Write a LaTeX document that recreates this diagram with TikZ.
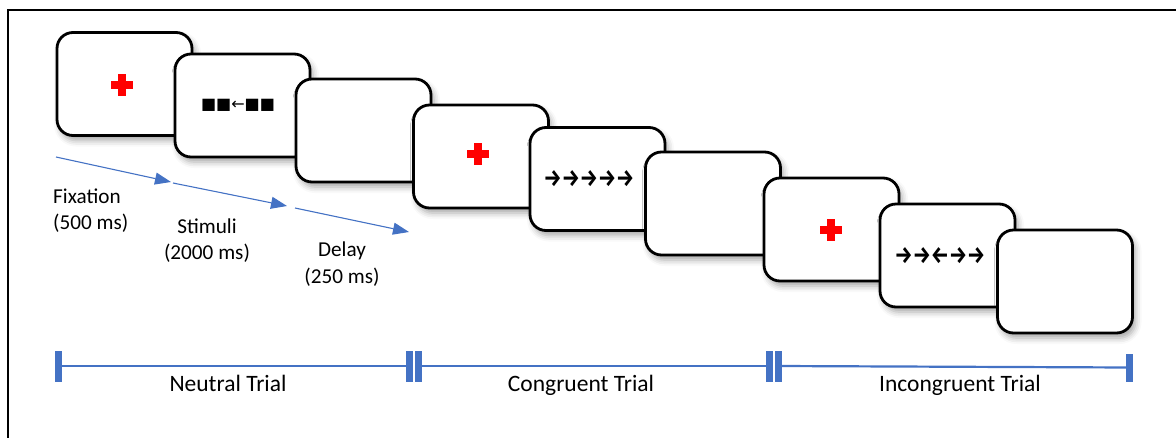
\documentclass[tikz,border=0pt]{standalone}
\usepackage{fontspec}
\setmainfont{Carlito}
\newfontfamily\symfont{DejaVu Sans}
\newfontfamily\arrowfont{Fira Sans}
\usetikzlibrary{arrows.meta,shadows.blur}
\definecolor{tblue}{HTML}{4472C4}
\definecolor{crossred}{HTML}{FF0000}
\begin{document}
\begin{tikzpicture}[x=1pt,y=-1pt,
  screen/.style={draw=black,line width=2.8pt,fill=white,rounded corners=16pt,
    minimum width=135pt,minimum height=103pt,inner sep=0pt,
    blur shadow={shadow xshift=3pt,shadow yshift=-5pt,shadow blur radius=6pt,shadow opacity=35}},
  redcross/.style={minimum size=22pt,inner sep=0pt,
    path picture={
      \fill[crossred] ([shift={(-11pt,-4pt)}]path picture bounding box.center) rectangle ([shift={(11pt,4pt)}]path picture bounding box.center);
      \fill[crossred] ([shift={(-4pt,-11pt)}]path picture bounding box.center) rectangle ([shift={(4pt,11pt)}]path picture bounding box.center);}},
  stimtxt/.style={inner sep=0pt,font=\arrowfont\bfseries\fontsize{24}{24}\selectfont},
  neutxt/.style={inner sep=0pt,font=\symfont\fontsize{16}{16}\selectfont},
  stagelbl/.style={inner sep=0pt,align=center,font=\fontsize{21.2}{26.5}\selectfont},
  triallbl/.style={inner sep=0pt,anchor=base,font=\fontsize{23.5}{28}\selectfont},
  timearrow/.style={draw=tblue,line width=1.1pt,-{Triangle[length=16pt,width=12pt]}},
  bar/.style={fill=tblue,draw=none,minimum width=7pt,minimum height=31pt,inner sep=0pt},
  tline/.style={draw=tblue,line width=2.2pt},
  frame/.style={draw=black,line width=2.6pt}
]
\useasboundingbox (0,0) rectangle (1176,437);
% outer frame (only top and left visible)
\coordinate (fbl) at (8,445);
\coordinate (ftl) at (8,10);
\coordinate (ftr) at (1185,10);
\draw[frame] (fbl) -- (ftl) -- (ftr);

% screens
\node[screen] (b1) at (124.5,84) {};
\node[redcross] (c1) at (122,85) {};
\node[screen] (b2) at (242.5,105.5) {};
\node[neutxt] (s2) at (238,105) {■■←■■};
\node[screen] (b3) at (363.5,130.5) {};
\node[screen] (b4) at (481,156.5) {};
\node[redcross] (c4) at (478,154) {};
\node[screen] (b5) at (597.5,179) {};
\node[stimtxt] (s5) at (589,179) {\scalebox{0.84}[1]{→→→→→}};
\node[screen] (b6) at (713,203.5) {};
\node[screen] (b7) at (831.5,229.5) {};
\node[redcross] (c7) at (831,230) {};
\node[screen] (b8) at (947.5,255.5) {};
\node[stimtxt] (s8) at (940,256) {\scalebox{0.84}[1]{→→←→→}};
\node[screen] (b9) at (1065,281.5) {};

% timing arrows
\coordinate (a0) at (56,157);
\coordinate (a1) at (171,182);
\coordinate (a2s) at (173,183);
\coordinate (a2) at (287,206);
\coordinate (a3s) at (295,208);
\coordinate (a3) at (409,232);
\draw[timearrow] (a0) -- (a1);
\draw[timearrow] (a2s) -- (a2);
\draw[timearrow] (a3s) -- (a3);

% stage labels
\node[stagelbl,align=left,anchor=west] (l1) at (53,210.5) {Fixation\\(500 ms)};
\node[stagelbl] (l2) at (207,240.5) {Stimuli\\(2000 ms)};
\node[stagelbl] (l3) at (342,264) {Delay\\(250 ms)};

% timeline
\node[bar] (t0) at (58.5,366) {};
\node[bar] (d1a) at (409.5,366) {};
\node[bar] (d1b) at (418.5,366) {};
\node[bar] (d2a) at (769.5,366) {};
\node[bar] (d2b) at (778.5,366) {};
\node[bar,minimum height=28pt] (t3) at (1129.5,367.5) {};
\draw[tline] (t0) -- (d1a);
\draw[tline] (d1b) -- (d2a);
\draw[tline] (d2b) -- (t3);

\node[triallbl] (n1) at (228,391) {Neutral Trial};
\node[triallbl] (n2) at (581,391) {Congruent Trial};
\node[triallbl] (n3) at (960,391) {Incongruent Trial};
\end{tikzpicture}
\end{document}
